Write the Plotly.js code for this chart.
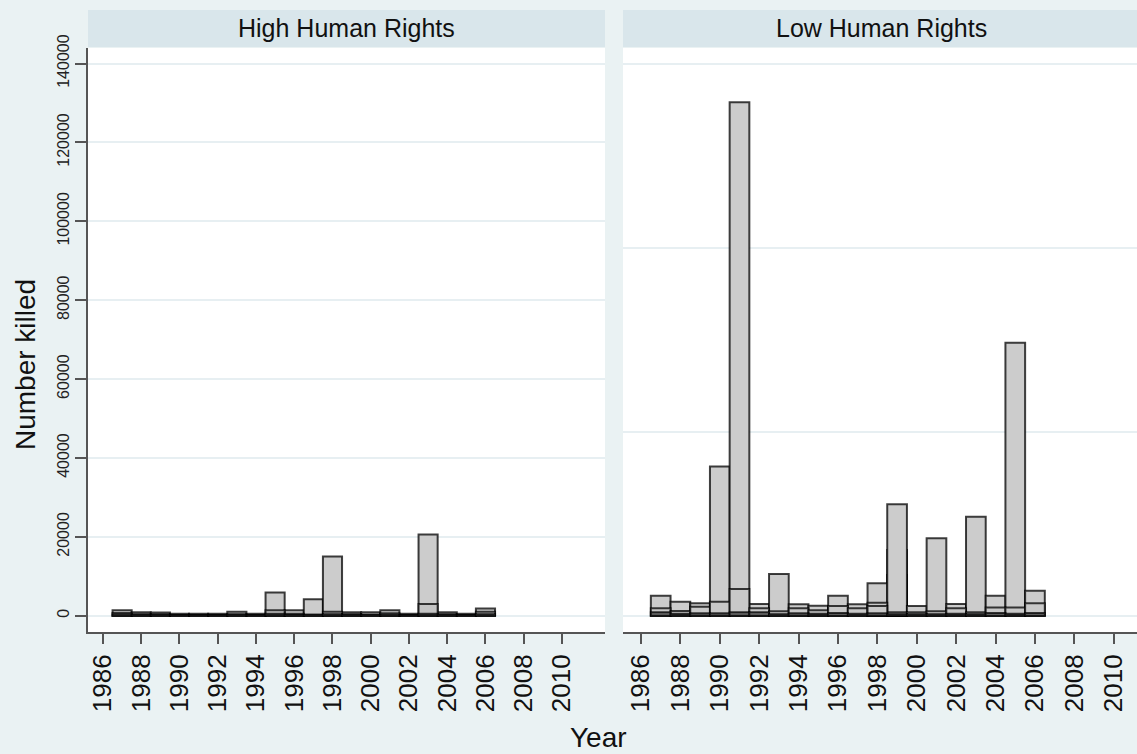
<!DOCTYPE html>
<html>
<head>
<meta charset="utf-8">
<script src="https://cdn.plot.ly/plotly-3.0.1.min.js"></script>
<style>html,body{margin:0;padding:0;background:#eaf2f3;}#chart{width:1137px;height:754px;}</style>
</head>
<body>
<div id="chart"></div>
<script>
// ---- data ----
const years = [1987,1988,1989,1990,1991,1992,1993,1994,1995,1996,1997,1998,1999,2000,2001,2002,2003,2004,2005,2006];

// High Human Rights panel: overlapping observations per year
const highMax = [1400, 900, 800, 500, 500, 500, 1000, 500, 5900, 1400, 4200, 15000, 900, 900, 1400, 500, 20600, 900, 500, 1800];
const highMid = [700, 400, 400, 200, 200, 200, 400, 200, 1400, 500, 300, 1000, 400, 300, 600, 200, 3000, 400, 200, 1000];
const highLow = [300, 150, 150, 100, 100, 100, 150, 100, 500, 200, 150, 400, 150, 150, 250, 100, 500, 150, 100, 400];

// Low Human Rights panel
const lowUnderA = [null, null, null, null, null, null, null, null, null, null, null, null, 16660, null, null, null, null, null, null, null];
const lowUnderB = [null, null, null, null, null, null, null, null, null, null, null, null, 10300, null, null, null, null, null, null, null];
const lowMax = [5070, 3550, 3150, 37800, 130200, 2970, 10570, 2880, 2540, 5070, 2880, 8200, 28250, 2450, 19630, 2970, 25100, 5070, 69220, 6340];
const lowMid = [1900, 1200, 2300, 3550, 6770, 1870, 1150, 1870, 1400, 2450, 1870, 3300, 900, 900, 1150, 1870, 900, 2100, 2100, 3150];
const lowMid2 = [null, null, null, null, null, null, null, null, null, null, null, 2450, null, null, null, null, null, null, null, null];
const lowLow = [900, 500, 600, 600, 900, 900, 400, 600, 500, 700, 500, 600, 400, 400, 400, 500, 400, 700, 500, 700];

// ticks
const xTicks = [1986,1988,1990,1992,1994,1996,1998,2000,2002,2004,2006,2008,2010];
const yTicks = [0,20000,40000,60000,80000,100000,120000,140000];
const yTickText = ["0","20000","40000","60000","80000","100000","120000","140000"];
const rightGrid = [0, 46667, 93333, 140000];

const panelTitles = ["High Human Rights", "Low Human Rights"];
const yTitle = "Number killed";
const xTitle = "Year";

// ---- drawing ----
const W = 1137, H = 754;
const FONT = "Liberation Sans, Arial, Helvetica, sans-serif";
const lineStyle = {color: "rgba(0,0,0,0.75)", width: 2};

function barTrace(y, xa, ya, fill) {
  return {type: "bar", x: years, y: y, width: 1, xaxis: xa, yaxis: ya,
    marker: {color: fill, line: lineStyle}, hoverinfo: "skip", showlegend: false};
}

const data = [
  barTrace(highMax, "x", "y", "#cccccc"),
  barTrace(highMid, "x", "y", "#c4c4c4"),
  barTrace(highLow, "x", "y", "#6e6e6e"),
  barTrace(lowUnderA, "x2", "y2", "#cccccc"),
  barTrace(lowUnderB, "x2", "y2", "#cccccc"),
  barTrace(lowMax, "x2", "y2", "#cccccc"),
  barTrace(lowMid, "x2", "y2", "#c8c8c8"),
  barTrace(lowMid2, "x2", "y2", "#c8c8c8"),
  barTrace(lowLow, "x2", "y2", "#6e6e6e")
];

const yDom = [1 - 632/H, 1 - 48/H];
const yRange = [-4130, 143930];
const axisCommon = {
  tickvals: xTicks, tickangle: -90, ticks: "outside", ticklen: 10, tickwidth: 2,
  tickcolor: "#555", showline: true, linecolor: "#555", linewidth: 2,
  showgrid: false, zeroline: false, fixedrange: true,
  tickfont: {family: FONT, size: 26, color: "#111"}
};

const layout = {
  width: W, height: H, autosize: false,
  margin: {l: 0, r: 0, t: 0, b: 0},
  paper_bgcolor: "#eaf2f3", plot_bgcolor: "#ffffff",
  barmode: "overlay", bargap: 0,
  showlegend: false,
  xaxis: Object.assign({}, axisCommon, {domain: [88/W, 605/W], range: [1985.216, 2012.25], anchor: "y"}),
  xaxis2: Object.assign({}, axisCommon, {domain: [623/W, 1], range: [1985.086, 2011.18], anchor: "y2"}),
  yaxis: {
    domain: yDom, range: yRange, anchor: "x",
    tickvals: yTicks, ticktext: yTickText, tickangle: -90, ticks: "outside", ticklen: 11, tickwidth: 2, tickcolor: "#555",
    showline: true, linecolor: "#555", linewidth: 2,
    showgrid: true, gridcolor: "#e7eff2", gridwidth: 2, zeroline: false, fixedrange: true,
    tickfont: {family: FONT, size: 16, color: "#222"}
  },
  yaxis2: {
    domain: yDom, range: yRange, anchor: "x2",
    tickvals: rightGrid, showticklabels: false, ticks: "", showline: false,
    showgrid: true, gridcolor: "#e7eff2", gridwidth: 2, zeroline: false, fixedrange: true
  },
  shapes: [
    {type: "rect", xref: "paper", yref: "paper", x0: 88/W, x1: 605/W, y0: 1 - 47/H, y1: 1 - 10/H,
     fillcolor: "#d9e6eb", line: {width: 0}, layer: "below"},
    {type: "rect", xref: "paper", yref: "paper", x0: 623/W, x1: 1, y0: 1 - 47/H, y1: 1 - 10/H,
     fillcolor: "#d9e6eb", line: {width: 0}, layer: "below"}
  ],
  annotations: [
    {text: panelTitles[0], xref: "paper", yref: "paper", x: 346.5/W, y: 1 - 28/H, showarrow: false,
     xanchor: "center", yanchor: "middle", font: {family: FONT, size: 25, color: "#111"}},
    {text: panelTitles[1], xref: "paper", yref: "paper", x: 882/W, y: 1 - 28/H, showarrow: false,
     xanchor: "center", yanchor: "middle", font: {family: FONT, size: 25, color: "#111"}},
    {text: yTitle, xref: "paper", yref: "paper", x: 26/W, y: 1 - 365/H, showarrow: false, textangle: -90,
     xanchor: "center", yanchor: "middle", font: {family: FONT, size: 28, color: "#111"}},
    {text: xTitle, xref: "paper", yref: "paper", x: 598/W, y: 1 - 737/H, showarrow: false,
     xanchor: "center", yanchor: "middle", font: {family: FONT, size: 28, color: "#111"}}
  ]
};

Plotly.newPlot("chart", data, layout, {staticPlot: true, displayModeBar: false});
</script>
</body>
</html>
